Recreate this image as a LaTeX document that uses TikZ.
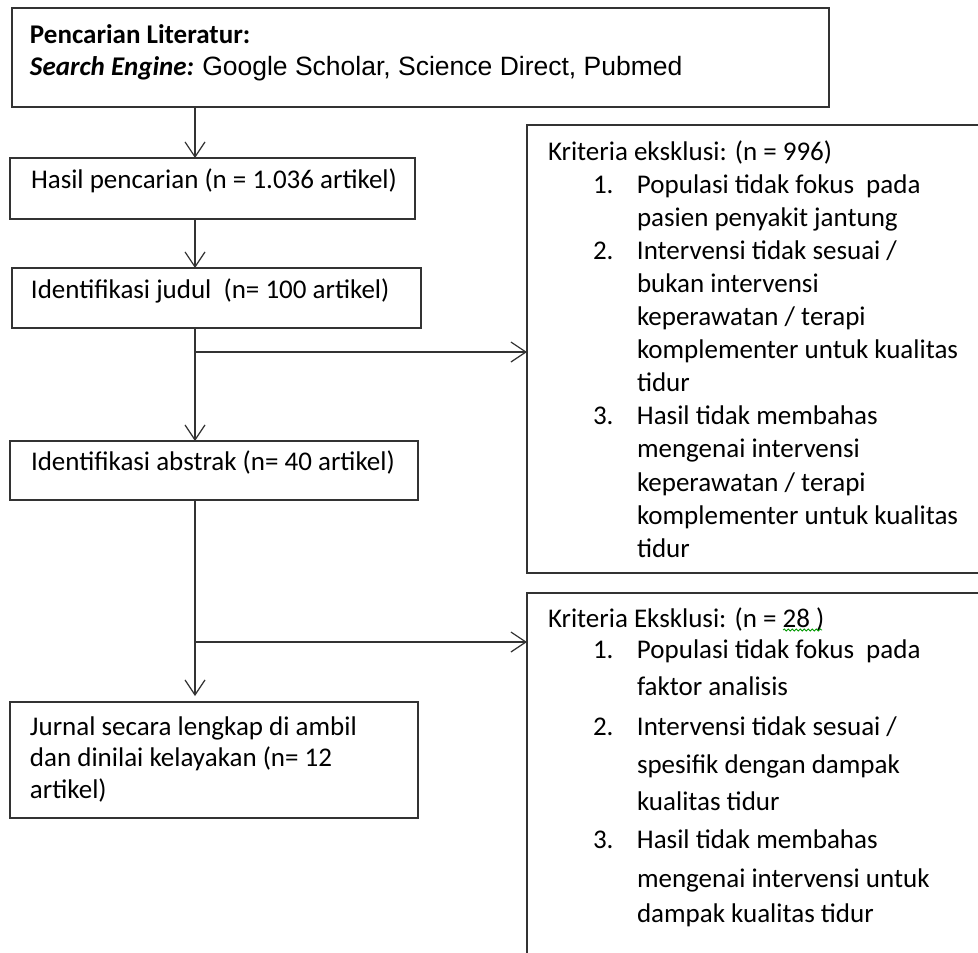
\documentclass[tikz,border=0pt]{standalone}
\usepackage{fontspec}
\setmainfont{Carlito}
\newfontfamily\arialfont{Liberation Sans}
\usetikzlibrary{arrows.meta,decorations.pathmorphing}

\tikzset{
  kotak/.style={draw=black!80, line width=1.2pt, anchor=north west, inner sep=0pt, outer sep=0pt},
  panah/.style={draw=black!80, line width=1.2pt, -{Straight Barb[length=15pt,width=20pt]}}
}
% tinggi, lebar, jarak kiri, baris pertama, isi
\newcommand{\isikotak}[5]{\parbox[c][#1][t]{#2}{\leftskip=#3\rule{0pt}{#4}#5}}
\newcommand{\nomor}[1]{\hspace*{45pt}\makebox[44pt][l]{#1}}
\newcommand{\lanjut}{\hspace*{89pt}}

\begin{document}
\begin{tikzpicture}[x=1pt, y=-1pt, font=\fontsize{27}{33}\selectfont]

    \fill[white] (0,0) rectangle (978,953);
    \useasboundingbox (0,0) rectangle (978,953);
    \clip (0,0) rectangle (978,953);

    \node[kotak] (lit) at (12,8) {\isikotak{99pt}{817pt}{18pt}{35pt}{\baselineskip=32pt
      \textbf{Pencarian Literatur:}\\
      \textbf{\textit{Search Engine:}} {\arialfont\fontsize{26.5}{32}\selectfont Google Scholar, Science Direct, Pubmed}}};
    \node[kotak] (hasil) at (10,158) {\isikotak{61pt}{405pt}{21pt}{30pt}{Hasil pencarian (n = 1.036 artikel)}};
    \node[kotak] (judul) at (12,268) {\isikotak{60pt}{409pt}{19pt}{30pt}{Identifikasi judul\ \ (n= 100 artikel)}};
    \node[kotak] (abstrak) at (10,441) {\isikotak{59pt}{408pt}{21pt}{29pt}{Identifikasi abstrak (n= 40 artikel)}};
    \node[kotak] (jurnal) at (10,702) {\isikotak{116pt}{408pt}{20pt}{33pt}{\baselineskip=31.5pt
      Jurnal secara lengkap di ambil\\
      dan dinilai kelayakan (n= 12\\
      artikel)}};

    \node[kotak] (eks1) at (527,125) {\isikotak{448pt}{473pt}{21pt}{35pt}{\baselineskip=33.1pt
      Kriteria eksklusi: (n = 996)\\
      \nomor{1.}Populasi tidak fokus\ \ pada\\
      \lanjut pasien penyakit jantung\\
      \nomor{2.}Intervensi tidak sesuai /\\
      \lanjut bukan intervensi\\
      \lanjut keperawatan / terapi\\
      \lanjut komplementer untuk kualitas\\
      \lanjut tidur\\
      \nomor{3.}Hasil tidak membahas\\
      \lanjut mengenai intervensi\\
      \lanjut keperawatan / terapi\\
      \lanjut komplementer untuk kualitas\\
      \lanjut tidur}};
    \node[kotak] (eks2) at (527,593) {\isikotak{380pt}{473pt}{21pt}{34pt}{\baselineskip=31pt
      Kriteria Eksklusi: (n = 28 )\\
      \nomor{1.}Populasi tidak fokus\ \ pada\\[6pt]
      \lanjut faktor analisis\\[9pt]
      \nomor{2.}Intervensi tidak sesuai /\\[7pt]
      \lanjut spesifik dengan dampak\\[6pt]
      \lanjut kualitas tidur\\[7pt]
      \nomor{3.}Hasil tidak membahas\\[8pt]
      \lanjut mengenai intervensi untuk\\[4pt]
      \lanjut dampak kualitas tidur}};

    % garis bergelombang di bawah angka 28
    \draw[green!60!black, line width=0.8pt, decorate, decoration={snake, amplitude=1pt, segment length=4pt}] (783,630) -- (822,630);

    \coordinate (sumbu) at (195,0);
    \coordinate (cabang1) at (195,352);
    \coordinate (cabang2) at (195,642);

    \draw[panah] (lit.south -| sumbu) -- (hasil.north -| sumbu);
    \draw[panah] (hasil.south -| sumbu) -- (judul.north -| sumbu);
    \draw[panah] (judul.south -| sumbu) -- (abstrak.north -| sumbu);
    \draw[panah] (cabang1) -- (cabang1 -| eks1.west);
    \draw[panah, shorten >=6pt] (abstrak.south -| sumbu) -- (jurnal.north -| sumbu);
    \draw[panah] (cabang2) -- (cabang2 -| eks2.west);

  \end{tikzpicture}
\end{document}
